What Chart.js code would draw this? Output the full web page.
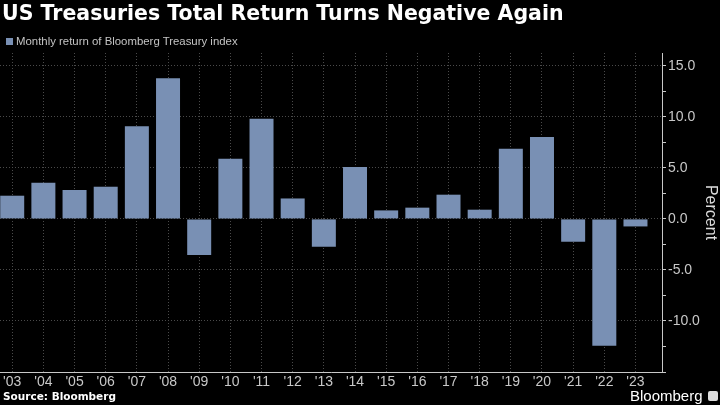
<!DOCTYPE html>
<html>
<head>
<meta charset="utf-8">
<script src="https://cdn.jsdelivr.net/npm/chart.js@4"></script>
<style>
  html, body { margin: 0; padding: 0; background: #000; }
  #wrap { position: relative; width: 720px; height: 405px; background: #000; overflow: hidden; }
  #chart { position: absolute; left: 0; top: 0; }
  .txt { position: absolute; white-space: nowrap; }
  #title { left: 2px; top: 1px; font: bold 20.5px "DejaVu Sans", sans-serif; color: #fff; }
  #legend { left: 6px; top: 35px; font: 11.4px "Liberation Sans Narrow", "Liberation Sans", sans-serif; color: #c4c4c4; }
  #legend .sw { display: inline-block; width: 7px; height: 7px; background: #7990b4; margin-right: 3px; vertical-align: 0px; }
  #source { left: 3px; top: 390px; font: bold 10.5px "DejaVu Sans", sans-serif; color: #fff; }
  #brand { left: 630px; top: 387px; font: 15px "Liberation Sans Narrow", "Liberation Sans", sans-serif; color: #fff; }
  #brand .ic { display: inline-block; width: 10px; height: 10px; background: #ddd; margin-left: 5px; border-radius: 2px; }
</style>
</head>
<body>
<div id="wrap">
  <canvas id="chart" width="720" height="405"></canvas>
  <div class="txt" id="title">US Treasuries Total Return Turns Negative Again</div>
  <div class="txt" id="legend"><span class="sw"></span><span id="legendText"></span></div>
  <div class="txt" id="source">Source: Bloomberg</div>
  <div class="txt" id="brand">Bloomberg<span class="ic"></span></div>
</div>
<script>
// ---- data ----
const seriesName = "Monthly return of Bloomberg Treasury index";
const years = [2003, 2004, 2005, 2006, 2007, 2008, 2009, 2010, 2011, 2012, 2013,
               2014, 2015, 2016, 2017, 2018, 2019, 2020, 2021, 2022, 2023];
const tickLabels = ["'03", "'04", "'05", "'06", "'07", "'08", "'09", "'10", "'11", "'12", "'13",
                    "'14", "'15", "'16", "'17", "'18", "'19", "'20", "'21", "'22", "'23"];
const returns = [2.27, 3.55, 2.83, 3.15, 9.07, 13.77, -3.55, 5.9, 9.82, 2.0, -2.73,
                 5.08, 0.83, 1.1, 2.37, 0.9, 6.88, 8.02, -2.24, -12.43, -0.74];
const yTickValues = [-15, -12.5, -10, -7.5, -5, -2.5, 0, 2.5, 5, 7.5, 10, 12.5, 15];
const yAxisTitle = "Percent";

document.getElementById('legendText').textContent = seriesName;

const barColor = '#7990b4';
const gridColor = '#4a4a4a';
const axisColor = '#c8c8c8';
const tickFont = { family: '"Liberation Sans Narrow", "Liberation Sans", sans-serif', size: 14 };

const axisLines = {
  id: 'axisLines',
  afterDraw(chart) {
    const { ctx, chartArea: a } = chart;
    ctx.save();
    ctx.strokeStyle = axisColor;
    ctx.lineWidth = 1;
    ctx.beginPath();
    ctx.moveTo(a.right + 0.5, a.top);
    ctx.lineTo(a.right + 0.5, a.bottom + 0.5);
    ctx.lineTo(a.left, a.bottom + 0.5);
    ctx.stroke();
    ctx.restore();
  }
};

const isMajor = v => Math.abs(v % 5) < 1e-6 && v > -15;

new Chart(document.getElementById('chart'), {
  type: 'bar',
  data: {
    datasets: [{
      label: seriesName,
      data: years.map((y, i) => ({ x: y, y: returns[i] })),
      backgroundColor: barColor,
      borderWidth: 0,
      categoryPercentage: 1,
      barPercentage: 0.77
    }]
  },
  options: {
    responsive: false,
    animation: false,
    layout: { padding: { top: 53, left: 0, right: 0, bottom: 14 } },
    plugins: { legend: { display: false }, tooltip: { enabled: false } },
    scales: {
      x: {
        type: 'linear',
        offset: false,
        min: 2002.608,
        max: 2023.851,
        afterBuildTicks: s => { s.ticks = years.map(v => ({ value: v })); },
        afterFit: s => { s.height = 19; s.paddingLeft = 0; s.paddingRight = 0; },
        grid: { color: gridColor, drawTicks: false, lineWidth: 1, offset: false },
        border: { display: false, dash: [1, 2] },
        ticks: {
          color: axisColor, font: tickFont, padding: 2, maxRotation: 0, autoSkip: false,
          callback: (v) => { const i = years.indexOf(v); return i >= 0 ? tickLabels[i] : ''; }
        }
      },
      y: {
        position: 'right',
        min: -15,
        max: 16.25,
        afterBuildTicks: s => { s.ticks = yTickValues.map(v => ({ value: v })); },
        afterFit: s => { s.width = 58; s.paddingTop = 0; s.paddingBottom = 0; },
        grid: {
          color: c => (c.tick && isMajor(c.tick.value)) ? gridColor : 'rgba(0,0,0,0)',
          tickColor: axisColor,
          tickLength: 4,
          lineWidth: 1
        },
        border: { display: false, dash: [1, 2] },
        ticks: {
          color: axisColor,
          font: tickFont,
          padding: 2,
          autoSkip: false,
          callback: v => isMajor(v) ? v.toFixed(1) : ''
        },
        title: {
          display: true,
          text: yAxisTitle,
          color: '#dcdcdc',
          font: { family: '"Liberation Sans Narrow", "Liberation Sans", sans-serif', size: 16 },
          padding: { top: 0, bottom: 2 }
        }
      }
    }
  },
  plugins: [axisLines]
});
</script>
</body>
</html>
